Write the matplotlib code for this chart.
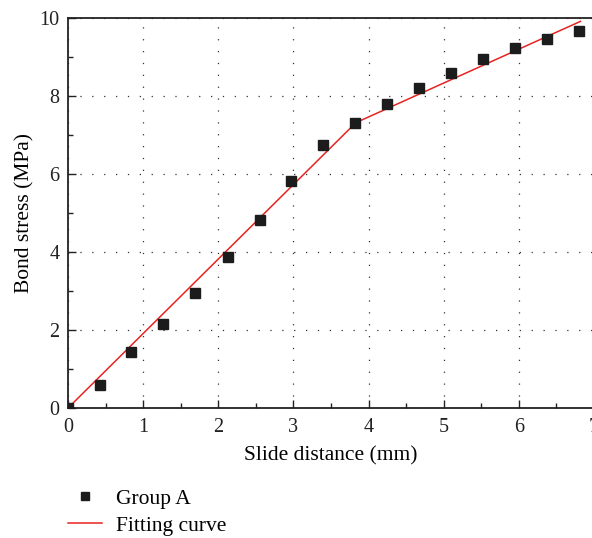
import numpy as np
import matplotlib.pyplot as plt
from matplotlib.ticker import MultipleLocator

plt.rcParams['font.family'] = ['Liberation Serif', 'DejaVu Serif']

# measured bond stress vs slide distance
slide = [0.0, 0.42, 0.84, 1.27, 1.69, 2.13, 2.55, 2.97, 3.39, 3.82,
         4.25, 4.67, 5.10, 5.52, 5.95, 6.37, 6.80]
stress = [0.0, 0.60, 1.45, 2.15, 2.95, 3.87, 4.83, 5.83, 6.75, 7.30,
          7.80, 8.22, 8.60, 8.95, 9.23, 9.47, 9.68]

# fitted bilinear curve
fit_x = [0.0, 3.83, 6.82]
fit_y = [0.0, 7.32, 9.92]

fig = plt.figure(figsize=(5.92, 5.38), dpi=100)
ax = fig.add_axes([0.1149, 0.2416, 0.8885, 0.7245])

ax.plot(slide, stress, 's', color='#1c1c1c', markersize=7.5, label='Group A',
        zorder=3)
ax.plot(fit_x, fit_y, '-', color='#e8231f', linewidth=1.1, label='Fitting curve',
        zorder=2)

ax.set_xlim(0, 7)
ax.set_ylim(0, 10)
ax.xaxis.set_major_locator(MultipleLocator(1))
ax.xaxis.set_minor_locator(MultipleLocator(0.5))
ax.yaxis.set_major_locator(MultipleLocator(2))
ax.yaxis.set_minor_locator(MultipleLocator(1))
ax.tick_params(which='both', direction='in', labelsize=14.5, width=1,
               colors='#222222')
ax.tick_params(which='major', length=6)
ax.tick_params(which='minor', length=3.5)
ax.tick_params(axis='x', pad=7)
ax.tick_params(axis='y', pad=6)
ax.grid(True, which='major', linestyle=(0, (1, 8.5)), color='#333333',
        linewidth=0.9)
for s in ax.spines.values():
    s.set_linewidth(1.3)
    s.set_color('#222222')

ax.set_xlabel('Slide distance (mm)', fontsize=15.5, labelpad=7)
ax.set_ylabel('Bond stress (MPa)', fontsize=15.5, labelpad=4)

fig.legend(loc='upper left', bbox_to_anchor=(0.0966, 0.112),
           frameon=False, fontsize=15.5, handlelength=1.6, handletextpad=0.65,
           labelspacing=0.32, borderpad=0, markerscale=0.7)

fig.savefig('out.png', dpi=100)
